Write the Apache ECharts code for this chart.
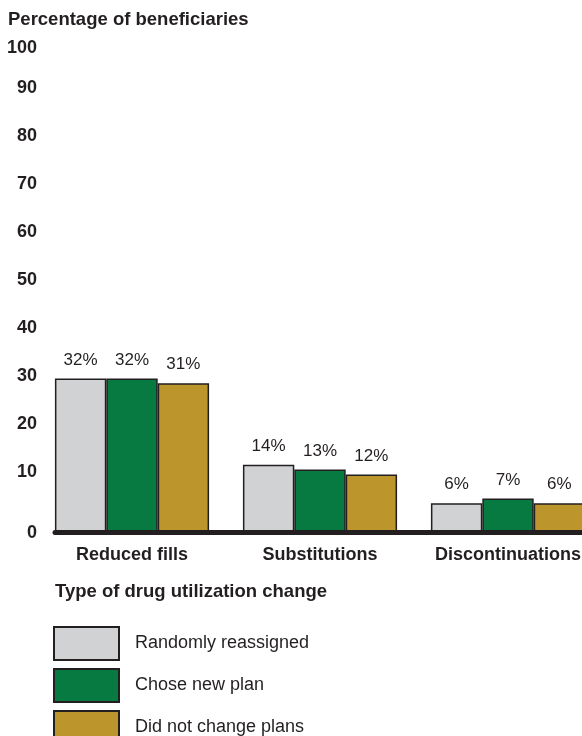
<!DOCTYPE html>
<html>
<head>
<meta charset="utf-8">
<title>Drug utilization change</title>
<script src="https://cdn.jsdelivr.net/npm/echarts/dist/echarts.min.js"></script>
<style>
html, body { margin: 0; padding: 0; background: #fff; }
#container { width: 582px; height: 736px; }
</style>
</head>
<body>
<div id="container"></div>
<script>
// data
var categories = ['Reduced fills', 'Substitutions', 'Discontinuations'];
var seriesNames = ['Randomly reassigned', 'Chose new plan', 'Did not change plans'];
var randomlyReassigned = [32, 14, 6];
var choseNewPlan = [32, 13, 7];
var didNotChange = [31, 12, 6];
var yTicks = [0, 10, 20, 30, 40, 50, 60, 70, 80, 90, 100];

var ink = '#231f20';
var font = 'Liberation Sans, Arial, Helvetica, sans-serif';
var colors = ['#d1d2d4', '#077a42', '#bc952c'];

function barSeries(name, values, color) {
    return {
        name: name,
        type: 'bar',
        xAxisIndex: 0,
        yAxisIndex: 0,
        data: values,
        barGap: '0%',
        barCategoryGap: '18%',
        itemStyle: {
            color: color,
            borderColor: ink,
            borderWidth: 1.5
        },
        label: {
            show: true,
            position: 'top',
            distance: 10,
            formatter: '{c}%',
            color: ink,
            fontFamily: font,
            fontSize: 17
        }
    };
}

var dom = document.getElementById('container');
var myChart = echarts.init(dom);

var option = {
    animation: false,
    textStyle: { fontFamily: font },
    title: [{
        text: 'Percentage of beneficiaries',
        left: 8,
        top: 10,
        padding: 0,
        textStyle: { color: ink, fontSize: 18.5, fontWeight: 'bold', fontFamily: font }
    }, {
        text: 'Type of drug utilization change',
        left: 55,
        top: 582,
        padding: 0,
        textStyle: { color: ink, fontSize: 18.5, fontWeight: 'bold', fontFamily: font }
    }],
    legend: {
        orient: 'vertical',
        left: 53,
        top: 626,
        height: 140,
        padding: 0,
        itemWidth: 65,
        itemHeight: 33,
        itemGap: 7,
        icon: 'rect',
        selectedMode: false,
        data: seriesNames,
        textStyle: { color: ink, fontSize: 18, fontFamily: font, padding: [0, 0, 0, 11] }
    },
    grid: [
        // bars (runs past the right edge, like the original)
        { left: 38, top: 52, width: 564, height: 480, outerBoundsMode: 'none', containLabel: false },
        // thick baseline, starts at the first bar
        { left: 55, top: 52, right: 0, height: 480, outerBoundsMode: 'none', containLabel: false }
    ],
    xAxis: [{
        gridIndex: 0,
        type: 'category',
        data: categories,
        axisLine: { show: false },
        axisTick: { show: false },
        axisLabel: {
            interval: 0,
            hideOverlap: false,
            margin: 14,
            color: ink,
            fontSize: 18,
            fontWeight: 'bold',
            fontFamily: font
        }
    }, {
        gridIndex: 1,
        type: 'category',
        data: categories,
        z: 5,
        axisLine: { show: true, lineStyle: { color: ink, width: 5 } },
        axisTick: { show: false },
        axisLabel: { show: false }
    }],
    yAxis: [{
        gridIndex: 0,
        type: 'value',
        min: yTicks[0],
        max: yTicks[yTicks.length - 1],
        interval: 10,
        axisLine: { show: false },
        axisTick: { show: false },
        splitLine: { show: false },
        axisLabel: {
            margin: 1,
            color: ink,
            fontSize: 18,
            fontWeight: 'bold',
            fontFamily: font,
            formatter: function (v) {
                if (v === 0) return '{z|0}';
                if (v === 100) return '{t|100}';
                return '{a|' + v + '}';
            },
            rich: {
                a: { padding: [0, 0, 24, 0], fontSize: 18, fontWeight: 'bold', color: ink, fontFamily: font },
                t: { padding: [0, 0, 8, 0], fontSize: 18, fontWeight: 'bold', color: ink, fontFamily: font },
                z: { padding: [2, 0, 0, 0], fontSize: 18, fontWeight: 'bold', color: ink, fontFamily: font }
            }
        }
    }, {
        gridIndex: 1,
        type: 'value',
        min: 0,
        max: 100,
        show: false
    }],
    series: [
        barSeries(seriesNames[0], randomlyReassigned, colors[0]),
        barSeries(seriesNames[1], choseNewPlan, colors[1]),
        barSeries(seriesNames[2], didNotChange, colors[2])
    ]
};

myChart.setOption(option);
</script>
</body>
</html>
